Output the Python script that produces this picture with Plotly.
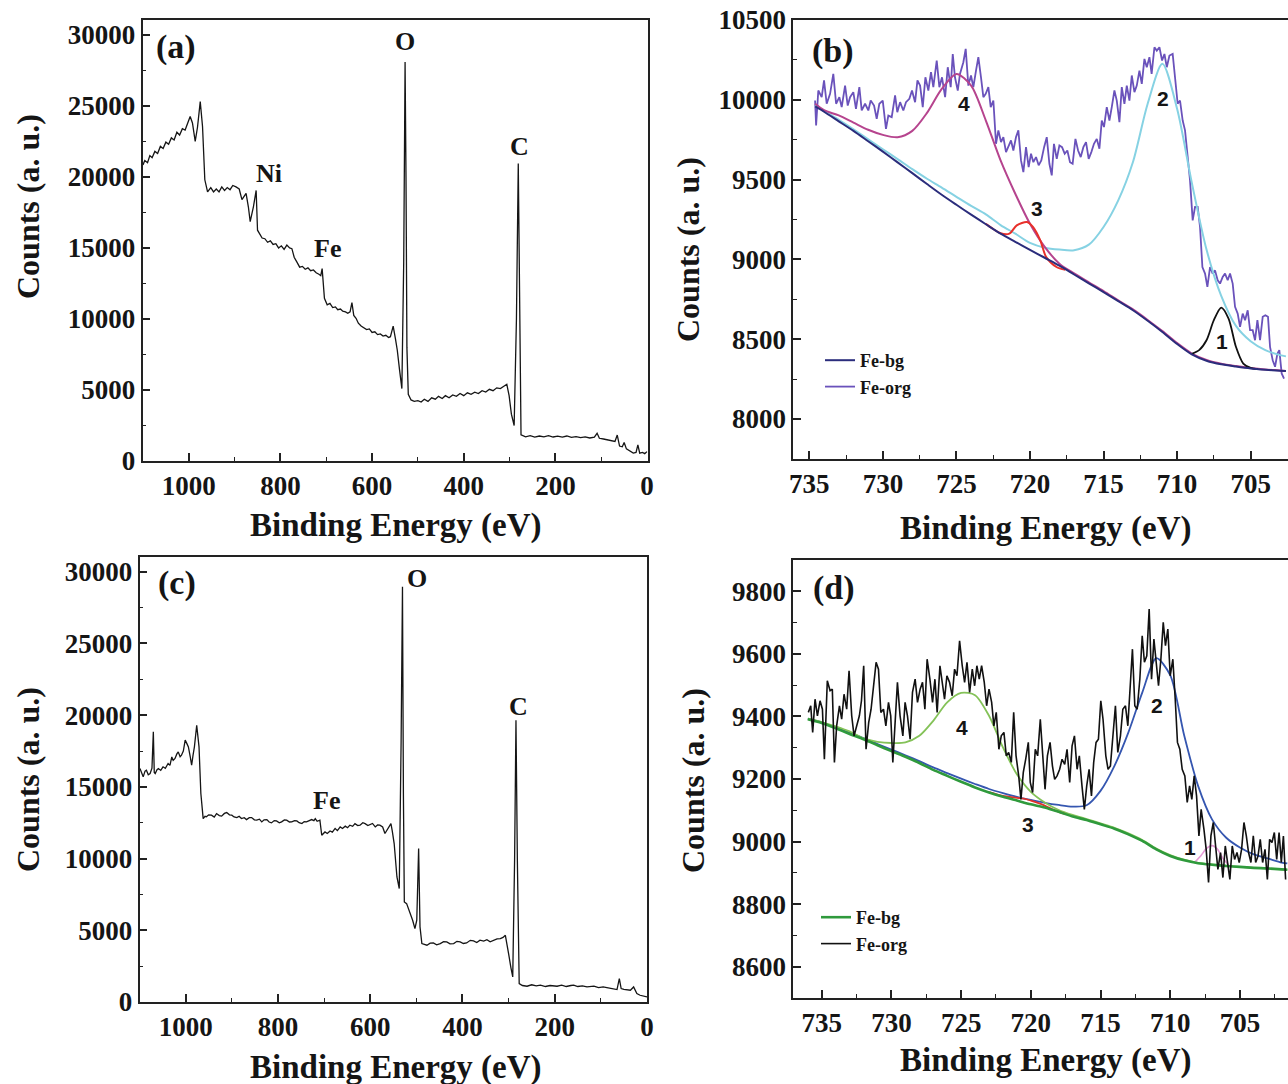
import plotly.graph_objects as go

# ---------------- data ----------------
# (a) survey spectrum, sample 1
A_E = [1100, 1096, 1090, 1085, 1080, 1074, 1068, 1062, 1056, 1050,
       1044, 1038, 1032, 1026, 1020, 1014, 1008, 1002, 997, 992,
       986, 981, 975, 970, 965, 959, 952, 946, 940, 934,
       928, 922, 916, 910, 904, 897, 890, 884, 878, 875,
       870, 866, 859, 853, 850, 845, 840, 834, 828, 822,
       816, 810, 804, 798, 792, 786, 780, 775, 770, 764,
       758, 752, 746, 740, 734, 728, 722, 716, 712, 709,
       704, 698, 692, 686, 680, 675, 669, 664, 658, 653,
       648, 644, 640, 635, 630, 624, 618, 612, 606, 600,
       594, 588, 582, 576, 570, 564, 560, 554, 549, 545,
       540, 535, 531, 528, 526, 524, 521, 515, 508, 500,
       493, 486, 478, 470, 462, 455, 447, 440, 432, 424,
       416, 408, 400, 392, 384, 376, 368, 360, 352, 344,
       336, 328, 320, 312, 306, 301, 296, 290, 285, 281,
       278, 275, 265, 255, 245, 235, 225, 215, 205, 195,
       185, 175, 165, 155, 145, 135, 125, 115, 109, 104,
       95, 86, 78, 70, 65, 60, 54, 50, 45, 38,
       30, 24, 20, 16, 10, 5, 0]
A_C = [20850, 21150, 21000, 21500, 21350, 21800, 21650, 22150, 22000, 22450,
       22300, 22750, 22600, 23150, 22950, 23400, 23300, 23850, 24250, 23800,
       22500, 23500, 25300, 23550, 19800, 18950, 19250, 18950, 19150, 18950,
       19300, 19050, 19250, 19100, 19400, 19300, 19150, 18400, 18700, 18850,
       17900, 16850, 17900, 19050, 16250, 15950, 15700, 15650, 15400, 15500,
       15250, 15300, 15000, 15150, 14900, 15200, 15000, 14950, 14350, 14000,
       13650, 13700, 13500, 13600, 13400, 13450, 13250, 13150, 13050, 13550,
       11450, 11000, 11100, 10800, 10850, 10650, 10700, 10550, 10500, 10400,
       10500, 11150, 10250, 10050, 9700, 9500, 9400, 9250, 9300, 9050,
       9100, 8900, 8950, 8800, 8850, 8700, 8750, 9500, 8600, 7800,
       6400, 5100, 14000, 28100, 20000, 8000, 4700, 4300, 4200, 4250,
       4150, 4350, 4200, 4450, 4350, 4550, 4400, 4600, 4450, 4650,
       4550, 4750, 4600, 4800, 4700, 4850, 4750, 4950, 4850, 5050,
       4950, 5150, 5100, 5250, 5400, 4600, 3300, 2500, 10000, 20950,
       9000, 1850, 1700, 1780, 1680, 1760, 1700, 1790, 1690, 1750,
       1680, 1760, 1660, 1720, 1640, 1700, 1620, 1680, 1950, 1600,
       1550, 1480, 1420, 1380, 1830, 1050, 1000, 1300, 850, 700,
       560, 600, 1130, 550, 600, 520, 660]

# (c) survey spectrum, sample 2
C_E = [1099, 1095, 1092, 1088, 1085, 1081, 1077, 1073, 1070, 1068,
       1066, 1062, 1059, 1054, 1049, 1044, 1038, 1034, 1030, 1027,
       1023, 1019, 1016, 1012, 1009, 1005, 1001, 997, 994, 990,
       987, 984, 981, 976, 971, 967, 962, 958, 955, 950,
       944, 938, 933, 927, 922, 916, 911, 905, 900, 895,
       889, 884, 879, 873, 868, 862, 857, 851, 846, 840,
       835, 830, 824, 819, 814, 808, 803, 797, 792, 786,
       781, 775, 770, 764, 759, 754, 748, 743, 738, 732,
       727, 722, 719, 715, 712, 709, 705, 701, 698, 693,
       687, 682, 676, 671, 665, 660, 654, 649, 644, 638,
       633, 627, 622, 616, 611, 605, 600, 595, 589, 584,
       579, 573, 568, 564, 560, 555, 552, 548, 542, 537,
       533, 530, 528, 526, 521, 513, 508, 503, 499, 495,
       492, 488, 482, 477, 470, 463, 456, 448, 441, 434,
       427, 419, 412, 405, 398, 391, 383, 376, 369, 362,
       354, 347, 340, 333, 325, 318, 312, 307, 304, 300,
       295, 291, 287, 284, 281, 277, 270, 260, 250, 240,
       231, 220, 210, 200, 195, 185, 175, 165, 159, 150,
       140, 130, 123, 115, 105, 95, 87, 78, 70, 65,
       60, 56, 50, 42, 36, 29, 25, 22, 15, 8,
       0]
C_C = [16280, 15900, 15700, 16100, 16160, 15850, 15930, 16300, 18840, 16000,
       15930, 16200, 16280, 16150, 16400, 16300, 16630, 16500, 17090, 16850,
       16980, 17300, 17440, 17100, 17210, 17500, 18260, 18000, 17790, 17100,
       16510, 17200, 17790, 19300, 17790, 14540, 12790, 12950, 12910, 13050,
       13030, 12900, 13140, 13000, 12960, 13150, 13210, 13050, 13030, 12900,
       12860, 12950, 12790, 12850, 12720, 12850, 12860, 12700, 12680, 12750,
       12560, 12700, 12720, 12550, 12490, 12650, 12630, 12500, 12560, 12700,
       12680, 12550, 12560, 12650, 12630, 12500, 12440, 12580, 12560, 12650,
       12720, 12650, 12790, 12600, 12630, 12680, 11630, 11800, 11860, 11750,
       11930, 11850, 12100, 11950, 12210, 12100, 12260, 12150, 12330, 12250,
       12440, 12300, 12330, 12500, 12440, 12300, 12400, 12450, 12210, 12350,
       12330, 12200, 11750, 11950, 12100, 12440, 11900, 11050, 8720, 7910,
       18000, 28950, 14540, 6980, 6860, 6170, 5700, 5120, 5700, 10700,
       5240, 4070, 3980, 3960, 4100, 4120, 3990, 4070, 4200, 4190,
       4050, 4070, 4230, 4190, 4080, 4120, 4300, 4260, 4150, 4310,
       4250, 4350, 4200, 4310, 4400, 4420, 4500, 4650, 4200, 3380,
       2400, 1750, 9890, 19650, 9890, 1280, 1150, 1100, 1200, 1120,
       1170, 1080, 1150, 1100, 1100, 1180, 1080, 1150, 1170, 1080,
       1130, 1050, 1050, 1100, 1000, 1050, 1010, 950, 900, 870,
       1630, 940, 880, 850, 820, 1050, 700, 590, 470, 420,
       350]

# (b) Fe 2p, sample 1: measured curve (Fe-org)
B_ORG_E = [734.61, 734.54, 734.39, 734.16, 734.00, 733.82, 733.59, 733.37, 733.18, 732.96,
           732.80, 732.57, 732.39, 732.23, 732.01, 731.83, 731.60, 731.44, 731.21, 730.99,
           730.83, 730.60, 730.42, 730.24, 730.01, 729.79, 729.63, 729.40, 729.17, 729.02,
           728.83, 728.61, 728.43, 728.20, 728.02, 727.81, 727.65, 727.47, 727.29, 727.11,
           726.91, 726.73, 726.57, 726.34, 726.16, 725.98, 725.77, 725.59, 725.39, 725.25,
           725.10, 724.91, 724.76, 724.53, 724.37, 724.19, 724.01, 723.85, 723.67, 723.51,
           723.33, 723.17, 723.01, 722.83, 722.67, 722.49, 722.31, 722.15, 721.97, 721.81,
           721.63, 721.47, 721.29, 721.13, 720.95, 720.79, 720.61, 720.45, 720.27, 720.09,
           719.93, 719.77, 719.59, 719.41, 719.23, 719.04, 718.86, 718.68, 718.52, 718.37,
           718.18, 718.00, 717.82, 717.64, 717.46, 717.28, 717.10, 716.91, 716.73, 716.55,
           716.37, 716.19, 716.01, 715.83, 715.65, 715.46, 715.28, 715.12, 714.97, 714.78,
           714.60, 714.44, 714.26, 714.10, 713.92, 713.76, 713.58, 713.42, 713.24, 713.08,
           712.90, 712.74, 712.56, 712.40, 712.22, 712.06, 711.88, 711.73, 711.54, 711.38,
           711.20, 711.02, 710.86, 710.70, 710.52, 710.30, 710.14, 709.96, 709.80, 709.62,
           709.46, 709.28, 709.12, 708.94, 708.78, 708.60, 708.44, 708.28, 708.10, 707.94,
           707.76, 707.58, 707.42, 707.24, 707.08, 706.90, 706.74, 706.56, 706.40, 706.22,
           706.06, 705.88, 705.72, 705.54, 705.38, 705.20, 705.04, 704.86, 704.70, 704.54,
           704.36, 704.18, 704.00, 703.82, 703.68, 703.50, 703.34, 703.18, 703.05, 702.89,
           702.73]
B_ORG_C = [9995, 9839, 10058, 10016, 10121, 9975, 10037, 10162, 9975, 10016,
           9954, 10089, 9964, 10016, 10048, 9943, 10079, 9933, 9975, 9933,
           9995, 9964, 9881, 9975, 9995, 9818, 9901, 9891, 10027, 9922,
           9985, 9933, 9985, 10006, 10058, 9985, 10121, 10089, 9954, 10141,
           10058, 10173, 10079, 10246, 10079, 10141, 10016, 10204, 10079, 10287,
           10141, 10058, 10162, 10235, 10319, 10089, 10152, 10079, 10183, 10267,
           10141, 10016, 10037, 10079, 9954, 9995, 9724, 9808, 9735, 9766,
           9672, 9703, 9745, 9682, 9766, 9808, 9620, 9547, 9703, 9578,
           9662, 9609, 9641, 9589, 9620, 9703, 9766, 9599, 9526, 9724,
           9630, 9714, 9703, 9662, 9682, 9609, 9599, 9755, 9682, 9641,
           9703, 9735, 9630, 9672, 9724, 9755, 9693, 9870, 9829, 9954,
           9870, 9954, 10058, 9995, 9860, 10079, 9975, 10089, 9995, 10152,
           10048, 10089, 10183, 10100, 10256, 10204, 10267, 10162, 10329, 10308,
           10329, 10246, 10287, 10204, 10277, 10287, 10121, 9975, 9995, 9870,
           9808, 9620, 9495, 9244, 9328, 9328, 9203, 8952, 8911, 8827,
           8952, 8911, 8931, 8869, 8848, 8890, 8911, 8869, 8911, 8848,
           8702, 8660, 8577, 8660, 8619, 8681, 8556, 8556, 8493, 8619,
           8493, 8640, 8650, 8640, 8452, 8368, 8327, 8410, 8431, 8285,
           8253]

# (b) fitted components on a common energy grid
B_GRID = [734.6, 734, 733, 732, 731, 730, 729, 728, 727, 726,
          725, 724, 723, 722, 721, 720, 719, 718, 717, 716,
          715, 714, 713, 712, 711, 710, 709, 708, 707, 706,
          705, 704, 703, 702.6]
B_BG = [9958, 9925, 9865, 9805, 9740, 9675, 9608, 9540, 9472, 9405,
        9342, 9280, 9220, 9161, 9110, 9060, 9010, 8960, 8905, 8850,
        8795, 8738, 8681, 8615, 8545, 8470, 8405, 8365, 8342, 8328,
        8316, 8308, 8302, 8300]
B_PEAK4 = [9975, 9935, 9902, 9857, 9812, 9780, 9765, 9805, 9918, 10068,
           10162, 10089, 9870, 9620, 9411, 9223, 9078, 8973, 8912, 8856,
           8801, 8743, 8686, 8620, 8550, 8475, 8410, 8370, 8346, 8331,
           8319, 8310, 8304, 8301]
B_PEAK2 = [9965, 9930, 9874, 9815, 9752, 9690, 9628, 9565, 9505, 9450,
           9392, 9335, 9282, 9215, 9161, 9103, 9073, 9061, 9057, 9092,
           9203, 9370, 9610, 9975, 10225, 9943, 9480, 9061, 8771, 8583,
           8487, 8431, 8400, 8392]
B_PEAK3_E = [723, 722.5, 722, 721.4, 720.9, 720.2, 719.8, 719.3, 718.9, 718.2, 717.6]
B_PEAK3_C = [9222, 9190, 9163, 9161, 9213, 9234, 9203, 9119, 9015, 8952, 8935]
B_PEAK1_E = [709, 708.5, 708, 707.5, 707, 706.5, 706, 705.5, 705, 704.5]
B_PEAK1_C = [8408, 8431, 8493, 8619, 8698, 8629, 8452, 8347, 8320, 8312]

# (d) Fe 2p, sample 2: measured curve (Fe-org)
D_ORG_E = [735.96, 735.79, 735.65, 735.48, 735.31, 735.12, 734.95, 734.81, 734.60, 734.40,
           734.24, 734.09, 733.93, 733.73, 733.57, 733.40, 733.21, 733.04, 732.85, 732.68,
           732.49, 732.30, 732.15, 731.99, 731.82, 731.63, 731.46, 731.29, 731.10, 730.93,
           730.76, 730.57, 730.40, 730.21, 730.05, 729.90, 729.71, 729.57, 729.38, 729.18,
           729.02, 728.85, 728.66, 728.49, 728.30, 728.13, 727.94, 727.77, 727.60, 727.44,
           727.24, 727.05, 726.88, 726.72, 726.52, 726.36, 726.19, 726.02, 725.83, 725.64,
           725.47, 725.30, 725.11, 724.92, 724.75, 724.58, 724.39, 724.20, 724.03, 723.87,
           723.70, 723.53, 723.34, 723.17, 723.00, 722.81, 722.65, 722.48, 722.29, 722.12,
           721.93, 721.76, 721.59, 721.40, 721.23, 721.06, 720.87, 720.71, 720.54, 720.37,
           720.18, 720.04, 719.87, 719.68, 719.51, 719.32, 719.15, 718.98, 718.81, 718.62,
           718.45, 718.29, 718.12, 717.93, 717.76, 717.57, 717.40, 717.21, 717.04, 716.87,
           716.68, 716.52, 716.33, 716.16, 715.99, 715.82, 715.65, 715.49, 715.32, 715.15,
           714.98, 714.82, 714.62, 714.46, 714.29, 714.12, 713.93, 713.76, 713.57, 713.40,
           713.21, 713.04, 712.88, 712.71, 712.54, 712.37, 712.18, 712.01, 711.85, 711.68,
           711.51, 711.34, 711.17, 711.01, 710.84, 710.67, 710.50, 710.34, 710.17, 710.00,
           709.81, 709.64, 709.48, 709.31, 709.14, 708.95, 708.78, 708.61, 708.45, 708.28,
           708.11, 707.94, 707.78, 707.58, 707.42, 707.25, 707.08, 706.91, 706.75, 706.58,
           706.39, 706.22, 706.05, 705.88, 705.72, 705.55, 705.38, 705.21, 705.05, 704.88,
           704.71, 704.54, 704.38, 704.21, 704.04, 703.87, 703.70, 703.54, 703.37, 703.20,
           703.03, 702.87, 702.70, 702.53, 702.36, 702.19, 702.03, 701.88, 701.72]
D_ORG_C = [9413, 9434, 9349, 9455, 9402, 9450, 9423, 9263, 9514, 9482,
           9487, 9253, 9370, 9434, 9391, 9471, 9423, 9546, 9402, 9338,
           9370, 9402, 9450, 9562, 9295, 9381, 9423, 9498, 9573, 9551,
           9413, 9423, 9370, 9445, 9402, 9253, 9391, 9509, 9402, 9338,
           9445, 9402, 9327, 9477, 9519, 9445, 9487, 9509, 9423, 9583,
           9519, 9445, 9519, 9413, 9562, 9509, 9455, 9530, 9509, 9466,
           9551, 9530, 9642, 9562, 9509, 9573, 9477, 9551, 9498, 9562,
           9519, 9562, 9509, 9434, 9487, 9445, 9370, 9413, 9295, 9338,
           9349, 9274, 9285, 9253, 9413, 9274, 9210, 9135, 9221, 9263,
           9317, 9189, 9157, 9295, 9274, 9391, 9274, 9167, 9274, 9317,
           9242, 9199, 9210, 9231, 9263, 9247, 9295, 9189, 9306, 9338,
           9231, 9274, 9178, 9103, 9178, 9231, 9146, 9253, 9317, 9327,
           9450, 9391, 9274, 9231, 9242, 9338, 9434, 9285, 9338, 9423,
           9434, 9370, 9498, 9615, 9434, 9423, 9519, 9658, 9573, 9594,
           9743, 9519, 9647, 9573, 9498, 9583, 9701, 9626, 9679, 9530,
           9583, 9455, 9317, 9295, 9231, 9210, 9125, 9178, 9135, 9210,
           9146, 9018, 9103, 9039, 8975, 8869, 9018, 9061, 8997, 8911,
           8965, 8885, 8986, 8933, 8879, 8986, 8943, 8965, 8933, 8975,
           9061, 9018, 8965, 8933, 9018, 8933, 8954, 9007, 8933, 8975,
           8879, 9007, 8997, 9029, 8943, 9029, 8933, 9018, 8879]

# (d) fitted components on a common energy grid
D_GRID = [736, 735, 734, 733, 732, 731, 730, 729, 728, 727,
          726, 725, 724, 723, 722, 721, 720, 719, 718, 717,
          716, 715, 714, 713, 712, 711, 710, 709, 708, 707,
          706, 705, 704, 703, 702, 701.6]
D_BG = [9391, 9379, 9362, 9344, 9327, 9308, 9289, 9271, 9251, 9229,
        9210, 9191, 9173, 9157, 9143, 9131, 9119, 9109, 9095, 9080,
        9069, 9055, 9041, 9023, 9002, 8975, 8954, 8940, 8931, 8926,
        8922, 8919, 8916, 8914, 8911, 8910]
D_PEAK4 = [9393, 9382, 9368, 9352, 9330, 9319, 9315, 9317, 9338, 9386,
           9445, 9475, 9468, 9402, 9301, 9215, 9159, 9125, 9101, 9085,
           9072, 9058, 9044, 9026, 9005, 8978, 8957, 8942, 8932, 8927,
           8923, 8919, 8916, 8914, 8911, 8910]
D_PEAK2 = [9393, 9381, 9365, 9348, 9331, 9312, 9294, 9276, 9257, 9237,
           9219, 9201, 9184, 9168, 9155, 9143, 9133, 9124, 9117, 9112,
           9116, 9162, 9242, 9349, 9477, 9586, 9532, 9340, 9178, 9071,
           9013, 8981, 8959, 8946, 8933, 8930]
D_PEAK3_E = [723, 722, 721, 720.5, 720, 719.5, 719, 718.5, 718, 717.5]
D_PEAK3_C = [9158, 9146, 9140, 9137, 9131, 9124, 9115, 9104, 9095, 9088]
D_PEAK1_E = [708.2, 707.8, 707.4, 707, 706.6, 706.2, 705.8]
D_PEAK1_C = [8936, 8955, 8978, 8987, 8975, 8945, 8925]

# tick settings / labels
SURVEY_XTICK = 200
SURVEY_YTICK = 5000
FE_XTICK = 5
B_YTICK = 500
D_YTICK = 200

# ---------------- figure ----------------
W, H = 1288, 1084
SERIF = "Liberation Serif"
SANS = "Liberation Sans"
INK = "#151515"


def dx(a, b):
    return [a / W, b / W]


def dy(top, bottom):
    return [1 - bottom / H, 1 - top / H]


fig = go.Figure()


def line(x, y, xa, ya, color, width, name=None, legend=None, rank=None, spline=False):
    fig.add_trace(go.Scatter(
        x=x, y=y, mode="lines", xaxis=xa, yaxis=ya,
        line=dict(color=color, width=width, shape="spline" if spline else "linear",
                  smoothing=0.8),
        name=name, showlegend=name is not None,
        legend=legend if legend else "legend",
        legendrank=rank if rank else 1000,
        hoverinfo="skip"))


# (a)
line(A_E, A_C, "x", "y", INK, 1.3)
# (c)
line(C_E, C_C, "x3", "y3", INK, 1.3)

# (b)
line(B_ORG_E, B_ORG_C, "x2", "y2", "#6a52bb", 1.8, "Fe-org", "legend", 2)
line(B_GRID, B_PEAK2, "x2", "y2", "#86d2e3", 2.0, spline=True)
line(B_GRID, B_PEAK4, "x2", "y2", "#b6448e", 2.0, spline=True)
line(B_PEAK3_E, B_PEAK3_C, "x2", "y2", "#e8302a", 2.0, spline=True)
line(B_PEAK1_E, B_PEAK1_C, "x2", "y2", "#111111", 1.8, spline=True)
line(B_GRID, B_BG, "x2", "y2", "#2b2d7c", 2.0, "Fe-bg", "legend", 1, spline=True)

# (d)
line(D_GRID, D_PEAK2, "x4", "y4", "#3556b0", 1.8, spline=True)
line(D_GRID, D_PEAK4, "x4", "y4", "#84c258", 1.8, spline=True)
line(D_PEAK3_E, D_PEAK3_C, "x4", "y4", "#e0302a", 1.8, spline=True)
line(D_PEAK1_E, D_PEAK1_C, "x4", "y4", "#e59ad6", 1.6, spline=True)
line(D_GRID, D_BG, "x4", "y4", "#2f9a3c", 2.6, "Fe-bg", "legend2", 1, spline=True)
line(D_ORG_E, D_ORG_C, "x4", "y4", "#111111", 1.6, "Fe-org", "legend2", 2)

tickfont = dict(family=SERIF, size=27, color=INK, weight="bold")


def axis(domain, rng, dtick, minor, mirror=True, **kw):
    d = dict(domain=domain, range=rng, dtick=dtick, tick0=0,
             showline=True, linecolor="#222", linewidth=1.6, mirror=mirror,
             ticks="inside", ticklen=8, tickwidth=1.5, tickcolor="#222",
             showgrid=False, zeroline=False, tickfont=tickfont,
             tickformat="d", automargin=False,
             minor=dict(ticks="inside", ticklen=4, tickwidth=1.4, tickcolor="#222",
                        dtick=minor, tick0=0, showgrid=False))
    d.update(kw)
    return d


fig.update_layout(
    width=W, height=H,
    margin=dict(l=0, r=0, t=0, b=0, autoexpand=False),
    paper_bgcolor="white", plot_bgcolor="white",
    xaxis=axis(dx(142.5, 647.5), [1101, -1], SURVEY_XTICK, 100, anchor="y"),
    yaxis=axis(dy(20, 461), [0, 31050], SURVEY_YTICK, 2500, anchor="x"),
    xaxis2=axis(dx(793.3, 1288), [736.09, 702.46], FE_XTICK, 2.5, anchor="y2"),
    yaxis2=axis(dy(19.5, 458.5), [7752, 10503], B_YTICK, 250, mirror=False, anchor="x2"),
    xaxis3=axis(dx(139.5, 647), [1100, 0], SURVEY_XTICK, 100, anchor="y3"),
    yaxis3=axis(dy(557, 1002), [0, 31030], SURVEY_YTICK, 2500, anchor="x3"),
    xaxis4=axis(dx(793.3, 1288), [737.04, 701.55], FE_XTICK, 2.5, anchor="y4"),
    yaxis4=axis(dy(560, 998), [8500, 9900], D_YTICK, 100, mirror=False, anchor="x4"),
    legend=dict(x=820 / W, y=1 - 342 / H, xanchor="left", yanchor="top",
                bgcolor="rgba(0,0,0,0)", borderwidth=0, tracegroupgap=0,
                font=dict(family=SERIF, size=18, color=INK, weight="bold")),
    legend2=dict(x=816 / W, y=1 - 899 / H, xanchor="left", yanchor="top",
                 bgcolor="rgba(0,0,0,0)", borderwidth=0, tracegroupgap=0,
                 font=dict(family=SERIF, size=18, color=INK, weight="bold")),
    showlegend=True,
)

ann = []


def text(s, x, y, xa, ya, size, family=SERIF, angle=0):
    ann.append(dict(text=s, x=x, y=y, xref=xa, yref=ya, showarrow=False,
                    xanchor="center", yanchor="middle", textangle=angle,
                    font=dict(family=family, size=size, color=INK, weight="bold")))


# panel letters
text("(a)", 1028, 29150, "x", "y", 34)
text("(b)", 733.4, 10308, "x2", "y2", 34)
text("(c)", 1019, 29200, "x3", "y3", 34)
text("(d)", 734.1, 9812, "x4", "y4", 34)

# element labels
text("O", 529, 29530, "x", "y", 26)
text("C", 278.4, 22130, "x", "y", 26)
text("Ni", 824, 20260, "x", "y", 26)
text("Fe", 696.7, 14980, "x", "y", 26)
text("O", 497.6, 29535, "x3", "y3", 26)
text("C", 278.5, 20580, "x3", "y3", 26)
text("Fe", 694, 14025, "x3", "y3", 26)

# component numbers
for s, x, y in [("4", 724.48, 9975), ("2", 710.98, 10006), ("3", 719.5, 9318), ("1", 706.96, 8483)]:
    text(s, x, y, "x2", "y2", 21, SANS)
for s, x, y in [("4", 724.94, 9365), ("2", 710.93, 9434), ("3", 720.23, 9053), ("1", 708.61, 8982)]:
    text(s, x, y, "x4", "y4", 21, SANS)

# axis titles
for cx, cy in [(396, 525), (1046, 528), (396, 1067), (1046, 1060)]:
    text("Binding Energy (eV)", cx / W, 1 - cy / H, "paper", "paper", 33)
for cx, cy in [(28, 207), (688, 250), (28, 780), (693, 780)]:
    text("Counts (a. u.)", cx / W, 1 - cy / H, "paper", "paper", 32, angle=-90)

fig.update_layout(annotations=ann)
fig.write_html("out.html")
